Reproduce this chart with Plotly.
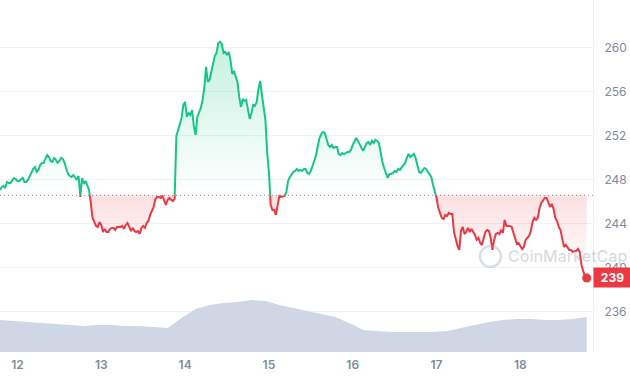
import pandas as pd
import plotly.graph_objects as go

# ---------------- data ----------------
start_time = "2023-12-11 19:00"          # first half-hourly sample
prices = [
    247.09, 247.36, 247.45, 247.27, 247.82, 247.73, 247.73, 248.00, 248.18, 248.09,
    247.91, 247.91, 248.09, 248.18, 247.82, 247.82, 248.00, 248.36, 248.73, 249.00,
    249.18, 248.73, 248.91, 249.36, 249.55, 249.55, 249.91, 250.27, 250.09, 249.73,
    249.64, 250.00, 249.82, 249.55, 249.73, 250.00, 249.91, 249.55, 249.00, 248.55,
    248.36, 248.27, 248.45, 248.27, 248.00, 248.36, 246.45, 248.18, 247.64, 247.91,
    247.55, 247.09, 245.91, 244.55, 244.18, 243.82, 243.73, 244.18, 243.91, 243.27,
    243.55, 243.27, 243.27, 243.55, 243.64, 243.64, 243.45, 243.73, 243.73, 243.73,
    243.82, 243.55, 243.91, 244.09, 243.73, 243.36, 243.64, 243.36, 243.27, 243.36,
    243.09, 243.64, 243.82, 243.64, 244.09, 244.27, 244.82, 245.27, 245.55, 246.27,
    246.45, 246.45, 246.36, 246.55, 246.09, 245.73, 246.18, 246.36, 246.18, 246.09,
    246.27, 252.00, 252.55, 253.18, 253.64, 254.82, 255.09, 253.73, 254.09, 253.91,
    254.36, 252.91, 252.09, 253.73, 254.18, 254.55, 255.27, 256.36, 258.27, 256.91,
    257.09, 257.82, 258.73, 259.27, 259.55, 260.45, 260.55, 260.36, 259.55, 259.64,
    259.36, 259.64, 258.91, 257.64, 257.91, 257.36, 256.91, 255.55, 254.64, 255.36,
    255.18, 255.27, 254.36, 253.55, 254.09, 254.82, 254.73, 255.09, 256.27, 257.00,
    255.73, 254.73, 253.45, 250.55, 248.73, 245.73, 245.27, 245.27, 244.82, 245.73,
    246.55, 246.45, 246.50, 246.55, 246.91, 247.91, 248.27, 248.55, 248.73, 248.82,
    249.00, 248.82, 248.91, 248.82, 249.00, 249.00, 248.64, 248.55, 248.82, 249.27,
    249.82, 250.27, 251.09, 251.82, 252.18, 252.36, 252.27, 251.73, 251.18, 251.00,
    251.18, 250.91, 251.00, 251.00, 250.36, 250.27, 250.45, 250.36, 250.45, 250.55,
    250.55, 250.73, 251.18, 251.55, 251.82, 251.55, 251.18, 250.91, 250.64, 251.00,
    251.36, 251.45, 251.18, 251.55, 251.36, 251.64, 251.55, 251.36, 250.45, 249.64,
    249.09, 248.55, 248.18, 248.55, 248.55, 248.64, 248.82, 248.73, 249.00, 248.91,
    249.09, 249.36, 249.55, 250.00, 250.36, 250.09, 250.27, 250.36, 250.00, 249.27,
    248.73, 248.64, 248.91, 249.09, 249.00, 248.73, 248.55, 248.27, 247.55, 247.00,
    246.36, 245.45, 245.00, 244.55, 244.45, 244.82, 244.73, 245.00, 244.91, 244.91,
    243.27, 242.55, 242.00, 241.64, 243.36, 243.73, 243.09, 243.27, 243.64, 243.27,
    243.55, 243.27, 243.00, 242.55, 242.73, 242.27, 242.09, 242.73, 243.27, 243.45,
    243.36, 242.73, 241.64, 242.55, 243.09, 243.18, 243.09, 243.45, 243.18, 244.36,
    243.82, 243.82, 243.82, 243.73, 243.18, 242.55, 242.18, 242.27, 242.00, 241.73,
    241.91, 242.55, 242.73, 242.91, 243.36, 244.18, 244.55, 244.36, 244.55, 245.45,
    245.91, 246.18, 246.36, 246.36, 245.91, 245.55, 245.82, 245.36, 244.55, 244.27,
    243.73, 243.45, 242.64, 241.91, 242.09, 241.91, 241.64, 241.64, 241.45, 241.55,
    241.55, 241.73, 241.45, 240.27, 239.82, 239.18,
    239.09,
]
base_price = 246.6                     # opening price of the period (dotted line)

volume_musd = [                        # 4-hourly volume, million USD
    320, 310, 300, 290, 280, 270, 260, 270, 270, 260, 260, 250, 240, 340, 430,
    470, 490, 500, 520, 510, 470, 440, 410, 380, 350, 290, 220, 210, 200, 200,
    200, 200, 210, 240, 270, 300, 320, 330, 330, 320, 320, 330, 350,
]

x_tick_dates = ["2023-12-12", "2023-12-13", "2023-12-14", "2023-12-15",
                "2023-12-16", "2023-12-17", "2023-12-18"]
x_tick_labels = ["12", "13", "14", "15", "16", "17", "18"]
y_tick_values = [236, 240, 244, 248, 252, 256, 260]
y_tick_labels = ["236", "240", "244", "248", "252", "256", "260"]

# ---------------- figure ----------------
start = pd.Timestamp(start_time)
price_times = pd.date_range(start, periods=len(prices), freq="30min")
vol_times = pd.date_range(start, periods=len(volume_musd), freq="4h")

Y_MIN, Y_MAX = 232.36, 264.36
VOL_MAX = 3520
split = (base_price - Y_MIN) / (Y_MAX - Y_MIN)

GREEN = "#16c784"
RED = "#ea3943"
TICK_COLOR = "#808a9d"
FONT = "Inter"
CLEAR = "rgba(0,0,0,0)"

fig = go.Figure()

# volume area
fig.add_trace(go.Scatter(
    x=vol_times, y=volume_musd, yaxis="y2", mode="lines",
    line=dict(width=0, color="#cfd6e4"), fill="tozeroy", fillcolor="#cfd6e4",
    hoverinfo="skip"))

# above-baseline part (clipped to the upper sub-area)
fig.add_trace(go.Scatter(
    x=price_times, y=prices, yaxis="y3", mode="lines",
    line=dict(color=GREEN, width=2), fill="tozeroy",
    fillgradient=dict(type="vertical",
                      colorscale=[[0, "rgba(22,199,132,0)"], [1, "rgba(22,199,132,0.26)"]],
                      start=base_price, stop=261)))

# below-baseline part (clipped to the lower sub-area)
fig.add_trace(go.Scatter(
    x=price_times, y=[Y_MAX + 50] * len(prices), yaxis="y4", mode="lines",
    line=dict(width=0, color=CLEAR), hoverinfo="skip"))
fig.add_trace(go.Scatter(
    x=price_times, y=prices, yaxis="y4", mode="lines",
    line=dict(color=RED, width=2), fill="tonexty",
    fillgradient=dict(type="vertical",
                      colorscale=[[0, "rgba(234,57,67,0)"], [1, "rgba(234,57,67,0.16)"]],
                      start=239.5, stop=base_price)))

# last point marker
fig.add_trace(go.Scatter(
    x=[price_times[-1]], y=[prices[-1]], yaxis="y", mode="markers",
    marker=dict(color=RED, size=9), cliponaxis=False))

fig.update_layout(
    width=630, height=380,
    margin=dict(l=0, r=37, t=0, b=28),
    plot_bgcolor=CLEAR, paper_bgcolor="white",
    showlegend=False,
    xaxis=dict(
        type="date",
        range=[start, start + pd.Timedelta(hours=169.8)],
        tickvals=x_tick_dates, ticktext=x_tick_labels,
        showgrid=False, zeroline=False, showline=False, ticks="",
        tickfont=dict(family=FONT, size=12, color=TICK_COLOR, weight=600),
        ticklabelstandoff=4,
    ),
    yaxis=dict(
        range=[Y_MIN, Y_MAX], side="right",
        tickvals=y_tick_values, ticktext=y_tick_labels,
        showgrid=True, gridcolor="#f0f2f5", gridwidth=1,
        showline=True, linecolor="#eef0f3", linewidth=1,
        zeroline=False, ticks="",
        tickfont=dict(family=FONT, size=12, color=TICK_COLOR),
        ticklabelstandoff=8,
    ),
    yaxis2=dict(overlaying="y", range=[0, VOL_MAX], visible=False),
    yaxis3=dict(domain=[split, 1], range=[base_price, Y_MAX], visible=False, anchor="x"),
    yaxis4=dict(domain=[0, split], range=[Y_MIN, base_price], visible=False, anchor="x"),
    shapes=[
        dict(type="line", xref="paper", x0=0, x1=1, yref="y", y0=base_price, y1=base_price,
             line=dict(color="#8a8f98", width=1, dash="1px,3px"), layer="below"),
        dict(type="circle", xref="paper", yref="paper",
             x0=480 / 593, x1=501 / 593, y0=(352 - 267) / 352, y1=(352 - 246) / 352,
             line=dict(color="rgba(150,162,185,0.35)", width=2.5), layer="above"),
    ],
    annotations=[
        dict(xref="paper", yref="paper", x=506 / 593, y=(352 - 256) / 352,
             xanchor="left", yanchor="middle", showarrow=False,
             text="CoinMarketCap",
             font=dict(family=FONT, size=16, color="rgba(150,162,185,0.38)", weight=500)),
        dict(xref="paper", x=1, yref="y", y=prices[-1], xanchor="left", yanchor="middle",
             showarrow=False, text=f"<b>{prices[-1]:.0f}</b>",
             bgcolor=RED, width=35, height=17, borderpad=1,
             font=dict(family=FONT, size=12, color="white")),
    ],
)

fig.write_html("out.html", config={"displayModeBar": False},
               post_script="document.body.style.margin='0';")
